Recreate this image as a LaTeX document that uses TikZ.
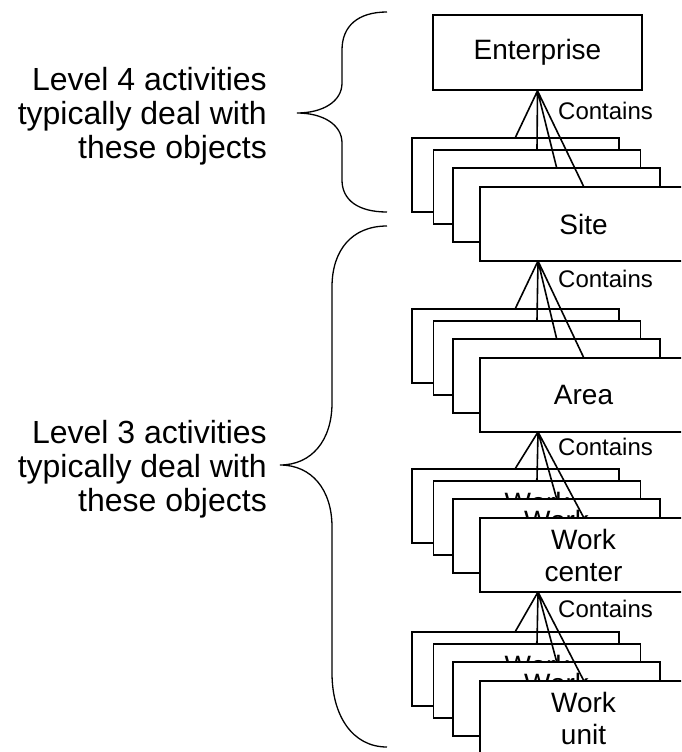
\documentclass[tikz,border=0pt]{standalone}
\usepackage{fontspec}
\setmainfont{Liberation Sans}
\begin{document}
\begin{tikzpicture}[x=1pt,y=-1pt,
  objbox/.style={draw, line width=1.7pt, fill=white, minimum width=207pt,
    minimum height=74pt, inner sep=0pt, align=center,
    font=\fontsize{28}{32}\selectfont},
  link/.style={line width=1.6pt},
  rel/.style={font=\fontsize{24}{26}\selectfont, anchor=base west, inner sep=0pt},
  note/.style={font=\fontsize{32}{34}\selectfont, align=right, anchor=east, inner sep=0pt},
  bracepath/.style={line width=1.3pt}]
\useasboundingbox (0,0) rectangle (681,752);
\clip (0,0) rectangle (681,752);

% Enterprise
\node[objbox, minimum width=209pt, minimum height=75pt] (ent) at (537.5,52.5) {Enterprise};

% Site level
\node[objbox] (s1) at (515.5,175) {Site};
\node[objbox] (s2) at (537,187) {Site};
\node[objbox] (s3) at (556.5,205) {Site};
\node[objbox] (s4) at (583.5,224) {Site};
\draw[link] (ent.south) -- (s1.north) (ent.south) -- (s2.north) (ent.south) -- (s3.north) (ent.south) -- (s4.north);
\node[rel] (c1) at (558,119) {Contains};
\coordinate (ap1) at (538,261);

% Area level
\node[objbox] (a1) at (515.5,346) {Area};
\node[objbox] (a2) at (537,358) {Area};
\node[objbox] (a3) at (556.5,376) {Area};
\node[objbox] (a4) at (583.5,395) {Area};
\draw[link] (ap1) -- (a1.north) (ap1) -- (a2.north) (ap1) -- (a3.north) (ap1) -- (a4.north);
\node[rel] (c2) at (558,287) {Contains};
\coordinate (ap2) at (538,432);

% Work center level
\node[objbox] (w1) at (515.5,506) {Work\\center};
\node[objbox] (w2) at (537,518) {Work\\center};
\node[objbox] (w3) at (556.5,536) {Work\\center};
\node[objbox] (w4) at (583.5,555) {Work\\center};
\draw[link] (ap2) -- (w1.north) (ap2) -- (w2.north) (ap2) -- (w3.north) (ap2) -- (w4.north);
\node[rel] (c3) at (558,455) {Contains};
\coordinate (ap3) at (538,592);

% Work unit level
\node[objbox] (u1) at (515.5,669) {Work\\unit};
\node[objbox] (u2) at (537,681) {Work\\unit};
\node[objbox] (u3) at (556.5,699) {Work\\unit};
\node[objbox] (u4) at (583.5,718) {Work\\unit};
\draw[link] (ap3) -- (u1.north) (ap3) -- (u2.north) (ap3) -- (u3.north) (ap3) -- (u4.north);
\node[rel] (c4) at (558,617) {Contains};

% Braces
\draw[bracepath] (387,12) .. controls (358,12) and (342,26) .. (342,50)
  -- (342,83) .. controls (342,102) and (322,113) .. (297,113)
  .. controls (322,113) and (342,124) .. (342,143)
  -- (342,180) .. controls (342,200) and (358,212) .. (387,212);
\draw[bracepath] (387,226) .. controls (352,226) and (332,250) .. (332,287)
  -- (332,403) .. controls (332,440) and (312,465) .. (280,465)
  .. controls (312,465) and (332,490) .. (332,527)
  -- (332,673) .. controls (332,715) and (352,747) .. (387,747);

% Notes
\node[note] (n4) at (267,116) {Level 4 activities\\typically deal with\ \\these objects};
\node[note] (n3) at (267,469) {Level 3 activities\\typically deal with\ \\these objects};
\end{tikzpicture}
\end{document}
